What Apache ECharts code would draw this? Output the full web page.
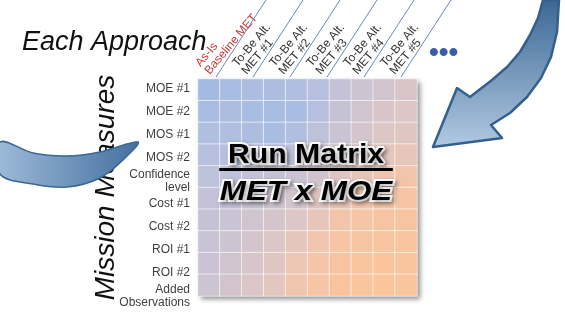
<!DOCTYPE html>
<html>
<head>
<meta charset="utf-8">
<script src="https://cdn.jsdelivr.net/npm/echarts@6/dist/echarts.min.js"></script>
<style>
  html, body { margin: 0; padding: 0; background: #fff; }
  #runMatrix { width: 565px; height: 317px; }
</style>
</head>
<body>
<div id="runMatrix"></div>
<script>
// 行：任务度量
const rowLabels = ['MOE #1', 'MOE #2', 'MOS #1', 'MOS #2', 'Confidence\nlevel',
  'Cost #1', 'Cost #2', 'ROI #1', 'ROI #2', 'Added\nObservations']
// 列（方法）标签
const metLabels = ['As-Is\nBaseline MET', 'To-Be Alt.\nMET #1', 'To-Be Alt.\nMET #2',
  'To-Be Alt.\nMET #3', 'To-Be Alt.\nMET #4', 'To-Be Alt.\nMET #5']
// 矩阵列
const colIds = ['c1', 'c2', 'c3', 'c4', 'c5', 'c6', 'c7', 'c8', 'c9', 'c10']
// 每格的色调（0 蓝 -> 100 橙），照图估读
const shade = [
  [0, 5, 8, 8, 10, 15, 25, 35, 40, 45],
  [5, 8, 5, 3, 5, 15, 28, 38, 45, 50],
  [10, 10, 8, 5, 10, 20, 32, 42, 50, 55],
  [15, 15, 15, 15, 20, 28, 40, 50, 58, 62],
  [20, 22, 25, 28, 32, 40, 52, 62, 70, 75],
  [25, 28, 32, 36, 42, 52, 65, 75, 82, 85],
  [28, 32, 38, 42, 50, 62, 75, 85, 90, 92],
  [30, 35, 42, 50, 60, 72, 85, 92, 95, 98],
  [32, 38, 45, 55, 68, 80, 92, 98, 100, 100],
  [35, 40, 48, 58, 72, 85, 95, 100, 100, 100]
]

const cells = []
shade.forEach((row, r) => row.forEach((v, c) => cells.push([c, r, v])))

const chart = echarts.init(document.getElementById('runMatrix'))
const sans = 'Liberation Sans, Arial, sans-serif'

let option = {
  animation: false,
  title: [
    {
      text: 'Each Approach',
      left: 22,
      top: 29,
      padding: 0,
      textStyle: { fontFamily: sans, fontSize: 27, fontStyle: 'italic', fontWeight: 'normal', color: '#111' }
    },
    {
      text: '•••',
      left: 429,
      top: 39,
      padding: 0,
      textStyle: { fontFamily: sans, fontSize: 28, fontWeight: 'bold', color: '#3a5cab' }
    }
  ],
  grid: [
    {
      left: 198,
      top: 79,
      width: 219,
      height: 217,
      show: true,
      borderWidth: 0,
      backgroundColor: '#d0c8d0',
      shadowBlur: 5,
      shadowColor: 'rgba(0,0,0,0.45)',
      shadowOffsetX: 3,
      shadowOffsetY: 3
    },
    { left: 184, top: 75, width: 222, height: 2 },
    // 行标签单独排一列，比格子略高
    { left: 198, top: 77.5, width: 219, height: 230 }
  ],
  xAxis: [
    { type: 'category', gridIndex: 0, data: colIds, show: false },
    {
      type: 'category',
      gridIndex: 1,
      position: 'top',
      data: metLabels,
      axisLine: { show: false },
      axisTick: { show: false },
      axisLabel: {
        interval: 0,
        rotate: 50,
        margin: 6,
        fontFamily: sans,
        fontSize: 12,
        lineHeight: 12,
        color: (v, i) => (i === 0 ? '#c43c3c' : '#333')
      }
    },
    { type: 'category', gridIndex: 2, data: colIds, show: false }
  ],
  yAxis: [
    {
      type: 'category',
      gridIndex: 0,
      inverse: true,
      data: rowLabels,
      axisLine: { show: false },
      axisTick: { show: false },
      axisLabel: { show: false },
      name: 'Mission Measures',
      nameLocation: 'middle',
      nameRotate: 90,
      nameGap: 78,
      nameTextStyle: { fontFamily: sans, fontSize: 28, fontStyle: 'italic', color: '#111' }
    },
    { type: 'value', gridIndex: 1, min: 0, max: 1, show: false },
    {
      type: 'category',
      gridIndex: 2,
      inverse: true,
      data: rowLabels,
      axisLine: { show: false },
      axisTick: { show: false },
      axisLabel: { interval: 0, fontFamily: sans, fontSize: 12, lineHeight: 13, margin: 8, color: '#3f3f3f' }
    }
  ],
  visualMap: {
    show: false,
    seriesIndex: 0,
    min: 0,
    max: 100,
    inRange: { color: ['#a3bbe4', '#c3c2d8', '#dcc6c6', '#f2c5ab', '#fac49d'] }
  },
  series: [
    {
      type: 'heatmap',
      xAxisIndex: 0,
      yAxisIndex: 0,
      data: cells,
      itemStyle: { borderColor: 'rgba(255,255,255,0.6)', borderWidth: 1 },
      emphasis: { disabled: true }
    },
    {
      // 标签之间的斜线
      type: 'custom',
      xAxisIndex: 1,
      yAxisIndex: 1,
      data: metLabels.map((_, i) => [i, 0]),
      renderItem: function (params, api) {
        const p = api.coord([api.value(0), 0])
        const bw = api.size([1, 0])[0]
        const x0 = p[0] + bw / 2 - 5
        const y0 = p[1]
        const ang = 57 * Math.PI / 180
        return {
          type: 'line',
          shape: { x1: x0, y1: y0, x2: x0 + y0 / Math.tan(ang), y2: 0 },
          style: { stroke: '#6c86b8', lineWidth: 1 }
        }
      }
    }
  ],
  graphic: [
    {
      type: 'text',
      z: 100,
      x: 306,
      y: 146,
      scaleX: 1.12,
      style: {
        x: 0,
        y: 0,
        align: 'center',
        text: '{a|Run Matrix}\n{u| }\n{b|MET x MOE}',
        rich: {
          a: {
            fontFamily: sans, fontSize: 27, fontWeight: 'bold', fill: '#000', lineHeight: 20,
            stroke: '#fff', lineWidth: 4, textShadowColor: 'rgba(0,0,0,0.35)', textShadowBlur: 4,
            textShadowOffsetX: 2, textShadowOffsetY: 2
          },
          u: { width: 155, height: 3, lineHeight: 7, backgroundColor: '#000' },
          b: {
            fontFamily: sans, fontSize: 28, fontWeight: 'bold', fontStyle: 'italic', fill: '#000', lineHeight: 38,
            stroke: '#fff', lineWidth: 4, textShadowColor: 'rgba(0,0,0,0.35)', textShadowBlur: 4,
            textShadowOffsetX: 2, textShadowOffsetY: 2
          }
        }
      }
    },
    {
      // 左侧弧形箭头
      type: 'polygon',
      z: 90,
      shape: {
        smooth: 0.35,
        points: [[0, 142], [33, 153], [67, 156], [100, 152], [138, 142],
          [124, 159], [100, 178], [67, 187], [33, 184], [0, 174]]
      },
      style: {
        fill: new echarts.graphic.LinearGradient(0, 0, 1, 0, [
          { offset: 0, color: '#9fbbd9' },
          { offset: 1, color: '#44709f' }
        ]),
        stroke: '#3a6794',
        lineWidth: 1.5
      }
    },
    {
      // 右侧弧形箭头
      type: 'polygon',
      z: 90,
      shape: {
        points: [[543, 0], [538, 18], [530, 35], [520, 52], [507, 67], [492, 80], [470, 97],
          [457, 88], [433, 147], [502, 138], [491, 125], [510, 113], [527, 97], [541, 78],
          [551, 57], [557, 32], [559, 0]]
      },
      style: {
        fill: new echarts.graphic.LinearGradient(0, 0, 0, 1, [
          { offset: 0, color: '#3b6795' },
          { offset: 1, color: '#b3cae2' }
        ]),
        stroke: '#35608c',
        lineWidth: 2.5,
        lineJoin: 'round'
      }
    }
  ]
}

chart.setOption(option, true)
</script>
</body>
</html>
